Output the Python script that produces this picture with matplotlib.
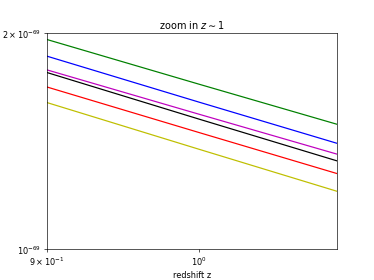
import matplotlib
matplotlib.use("Agg")
import matplotlib.pyplot as plt
from matplotlib.ticker import NullLocator

z = [0.9, 1.0, 1.1]
green = [1.960e-69, 1.698e-69, 1.4935e-69]
blue = [1.858e-69, 1.603e-69, 1.405e-69]
magenta = [1.778e-69, 1.542e-69, 1.357e-69]
black = [1.763e-69, 1.518e-69, 1.328e-69]
red = [1.683e-69, 1.454e-69, 1.275e-69]
yellow = [1.601e-69, 1.378e-69, 1.2045e-69]

xticks = [0.9, 1.0]
xticklabels = [r'$9\times10^{-1}$', r'$10^{0}$']
yticks = [1e-69, 2e-69]
yticklabels = [r'$10^{-69}$', r'$2\times10^{-69}$']

series = [(green, 'g'), (blue, 'b'), (magenta, 'm'), (black, 'k'), (red, 'r'), (yellow, 'y')]

dpi = 374 / 6.4
fig, ax = plt.subplots(figsize=(6.4, 4.8), dpi=dpi)
for vals, c in series:
    ax.plot(z, vals, color=c)
ax.set_xscale('log')
ax.set_yscale('log')
ax.set_xlim(0.9, 1.1)
ax.set_ylim(1e-69, 2e-69)
ax.xaxis.set_minor_locator(NullLocator())
ax.yaxis.set_minor_locator(NullLocator())
ax.set_xticks(xticks)
ax.set_xticklabels(xticklabels)
ax.set_yticks(yticks)
ax.set_yticklabels(yticklabels)
ax.set_title(r'zoom in $z\sim1$')
ax.set_xlabel('redshift z')
fig.savefig('out.png', dpi=dpi)
